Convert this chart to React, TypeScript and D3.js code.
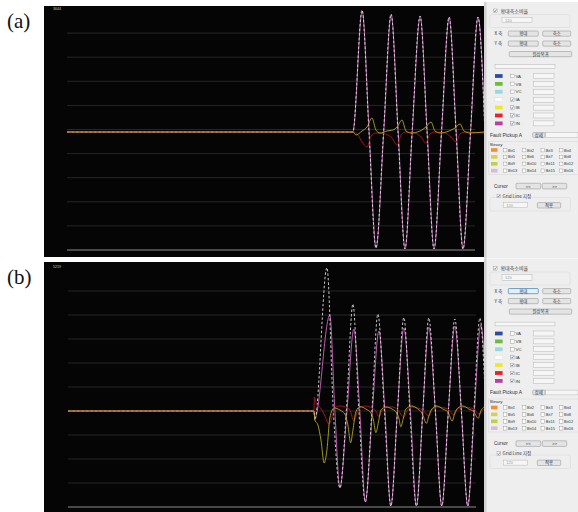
import React, { useEffect, useRef } from 'react';
import * as d3 from 'd3';

type Pt = [number, number];

// (a) fault record: time in ms, current in A
const iaA: Pt[] = [
  [0, 0], [164.5, 0], [169.8, 3615], [173.8, 0], [177.8, -3440], [182.2, 0],
  [186.5, 3496], [190.5, 0], [194.5, -3467], [198.6, 0], [203.2, 3437], [207.2, 0],
  [211.2, -3467], [215.5, 0], [219.9, 3407], [223.9, 0], [227.9, -3467], [232.2, 0],
  [236.5, 3407], [240.5, 0],
];
const inA: Pt[] = [
  [0, 0], [164.5, 0], [169.9, 3580], [173.9, 0], [177.9, -3430], [182.3, 0],
  [186.6, 3470], [190.6, 0], [194.6, -3455], [198.7, 0], [203.3, 3420], [207.3, 0],
  [211.3, -3455], [215.6, 0], [220, 3395], [224, 0], [228, -3455], [232.3, 0],
  [236.6, 3395], [240.6, 0],
];
const ibA: Pt[] = [
  [0, 0], [164.6, 0], [166.3, -89], [169.8, 30], [172.7, 150], [175.5, 415], [177.8, 60],
  [180.1, -30], [184.2, 30], [187.6, 60], [190, 150], [192.8, 355], [195.1, 30], [198, -30],
  [203.2, 30], [206.6, 150], [209.5, 296], [211.8, 30], [214.7, -30], [219.9, 30],
  [223.3, 118], [226.2, 237], [228.5, 30], [231.9, -30], [240, 0],
];
const icA: Pt[] = [
  [0, 0], [164.6, 0], [167.5, -89], [169.8, -296], [172.7, -444], [175, -118], [177.8, -30],
  [183, -59], [187, -178], [190, -385], [192.2, -89], [195.1, 0], [200.3, -30], [203.7, -148],
  [206.6, -326], [208.9, -59], [211.8, 0], [217.6, -30], [221, -148], [223.9, -296],
  [226.2, -59], [229.6, 0], [240, -30],
];

// (b) fault record
const iaB: Pt[] = [
  [0, 0], [160.8, 0], [161.4, -326], [169.3, 5193], [173.5, 0], [177.8, -2790], [182, 0],
  [186.3, 3878], [190.2, 0], [194.4, -3298], [198.7, 0], [202.6, 3515], [206.9, 0],
  [211.1, -3443], [215.4, 0], [219.6, 3388], [223.5, 0], [227.8, -3443], [232, 0],
  [235.9, 3370], [240.2, 0], [244.4, -3443], [248.7, 0], [252.9, 3334], [257.2, 0],
  [261.4, -3443], [265.4, 0], [269.3, 3370], [273.2, 0],
];
const inB: Pt[] = [
  [0, 0], [160.8, 0], [161.4, -254], [171.2, 3479], [174.5, 0], [177.8, -2790], [182.4, 0],
  [186.9, 2972], [190.8, 0], [194.4, -3298], [199, 0], [203.3, 2899], [207.2, 0],
  [211.1, -3443], [215.4, 0], [219.6, 3008], [223.9, 0], [227.8, -3443], [232, 0],
  [235.9, 3044], [240.2, 0], [244.4, -3443], [248.7, 0], [252.9, 3080], [257.2, 0],
  [261.4, -3443], [265.7, 0], [269.9, 3117], [273.9, 0],
];
const ibB: Pt[] = [
  [0, 0], [160.8, 0], [161.4, -326], [163.4, -507], [165.4, -1051], [167.5, -1885],
  [169.3, -1413], [171.2, -254], [173.9, 109], [177.8, 36], [181, -109], [183, -507],
  [184.8, -1149], [186.3, -689], [188.2, -36], [190.8, 156], [194.8, 72], [198, -72],
  [199.7, -326], [201.3, -786], [203, -399], [204.6, 36], [207.8, 145], [211.8, 72],
  [215, -72], [216.3, -254], [217.6, -569], [219.3, -254], [220.9, 72], [224.8, 181],
  [228.8, 72], [231.4, -72], [234.4, -446], [235.9, -181], [237.9, 72], [241.2, 181],
  [245.1, 72], [248.4, -36], [251.2, -362], [252.9, -72], [254.9, 109], [258.2, 181],
  [262.1, 72], [265.4, -36], [268.2, -265], [269.9, 0], [271.9, 145],
];
const icB: Pt[] = [
  [0, 0], [160.8, 0], [161.1, 507], [162.1, 326], [164, 181], [166, 36], [168, -181],
  [170.6, -471], [172.5, -254], [174.5, 109], [177.8, 181], [181.7, 145], [184.3, 36],
  [186.9, -351], [188.9, -72], [191.5, 145], [194.8, 181], [198.7, 109], [201.3, 0],
  [203.3, -206], [205.2, 0], [208.5, 145], [212.4, 145], [215.7, 36], [219.6, -217],
  [221.6, 0], [224.8, 145], [228.8, 109], [232, 36], [235.9, -181], [237.9, 36],
  [241.2, 145], [248.4, 72], [252.3, -145], [254.2, 36], [258.2, 145], [265.4, 72],
  [268.6, -109], [271.9, 72],
];

const phaseNames = ['VA', 'VB', 'VC', 'IA', 'IB', 'IC', 'IN'];
const phaseColors = ['#2e4d9f', '#6bbd3e', '#9cd6df', '#ffffff', '#efe632', '#e6222a', '#b63fa5'];
const phaseOn = [false, false, false, true, true, true, true];
const bitColors = ['#f28d33', '#d9cf4c', '#bdd14b', '#dab8da'];
const bitNames = [
  ['Bit1', 'Bit2', 'Bit3', 'Bit4'],
  ['Bit5', 'Bit6', 'Bit7', 'Bit8'],
  ['Bit9', 'Bit10', 'Bit11', 'Bit12'],
  ['Bit13', 'Bit14', 'Bit15', 'Bit16'],
];

const traceStyles = {
  IN: { color: '#b95fab', opacity: 1, dash: null },
  IA: { color: '#dcdcdc', opacity: 0.9, dash: '2.5 2' },
  IC: { color: '#a8161d', opacity: 0.95, dash: null },
  IB: { color: '#b8b026', opacity: 0.85, dash: null },
};

const scopes = [
  {
    id: 'a', top: 6, bottom: 257, gridTop: 9, gridBottom: 250, gridLeft: 67, gridRight: 475,
    xMax: 240, yMax: 3644, yMin: -3496,
    series: { IN: inA, IA: iaA, IC: icA, IB: ibA },
  },
  {
    id: 'b', top: 262, bottom: 512, gridTop: 267, gridBottom: 507, gridLeft: 68, gridRight: 476,
    xMax: 272, yMax: 5219, yMin: -3479,
    series: { IN: inB, IA: iaB, IC: icB, IB: ibB },
  },
];

const sans = "'Liberation Sans', Arial, sans-serif";
const kr = "'Noto Sans CJK KR', sans-serif";

const Scope = ({ cfg }: { cfg: any }) => {
  const ref = useRef<SVGGElement>(null);

  useEffect(() => {
    const g = d3.select(ref.current);
    g.selectAll('*').remove();

    const x = d3.scaleLinear().domain([0, cfg.xMax]).range([cfg.gridLeft, 484]);
    const y = d3.scaleLinear().domain([cfg.yMin, cfg.yMax]).range([cfg.gridBottom, cfg.gridTop]);

    g.append('rect')
      .attr('x', 44)
      .attr('y', cfg.top)
      .attr('width', 440)
      .attr('height', cfg.bottom - cfg.top)
      .attr('fill', '#050505');

    const clipId = `clip-${cfg.id}`;
    g.append('clipPath')
      .attr('id', clipId)
      .append('rect')
      .attr('x', 44)
      .attr('y', cfg.top)
      .attr('width', 440)
      .attr('height', cfg.bottom - cfg.top);

    // 10 divisions between yMax and yMin
    const divs = d3.range(1, 11).map((i) => cfg.yMax - (i * (cfg.yMax - cfg.yMin)) / 10);
    g.selectAll('line.grid')
      .data(divs)
      .enter()
      .append('line')
      .attr('x1', cfg.gridLeft)
      .attr('x2', cfg.gridRight)
      .attr('y1', (d) => y(d))
      .attr('y2', (d) => y(d))
      .attr('stroke', (d, i) => (i === 9 ? '#8e8e8e' : '#2e2e2e'))
      .attr('stroke-width', (d, i) => (i === 9 ? 1.2 : 0.8));

    g.append('text')
      .attr('x', 53)
      .attr('y', cfg.gridTop + 0.6)
      .attr('font-size', 3.6)
      .attr('font-family', sans)
      .attr('fill', '#c8c8c8')
      .text(cfg.yMax);

    const line = d3
      .line<Pt>()
      .x((d) => x(d[0]))
      .y((d) => y(d[1]))
      .curve(d3.curveMonotoneX);

    const traces = g.append('g').attr('clip-path', `url(#${clipId})`);
    Object.keys(cfg.series).forEach((name) => {
      const st = (traceStyles as any)[name];
      traces
        .append('path')
        .attr('d', line(cfg.series[name]))
        .attr('fill', 'none')
        .attr('stroke', st.color)
        .attr('stroke-opacity', st.opacity)
        .attr('stroke-width', 1)
        .attr('stroke-dasharray', st.dash);
    });
  }, [cfg]);

  return <g ref={ref} />;
};

const CheckBox = ({ x, y, on }: { x: number; y: number; on: boolean }) => (
  <g>
    <rect x={x} y={y} width={3.6} height={3.6} fill="#ffffff" stroke="#8a8a8a" strokeWidth={0.4} />
    {on && (
      <path
        d={`M${x + 0.7},${y + 1.9} L${x + 1.5},${y + 2.9} L${x + 3},${y + 0.7}`}
        fill="none"
        stroke="#2b4a8f"
        strokeWidth={0.6}
      />
    )}
  </g>
);

const Button = ({ x, y, w, h, label, active = false, font = kr }: any) => (
  <g>
    <rect
      x={x}
      y={y}
      width={w}
      height={h}
      rx={1}
      fill={active ? '#e3effa' : '#e4e4e4'}
      stroke={active ? '#3d80b8' : '#8c8c8c'}
      strokeWidth={active ? 0.7 : 0.5}
    />
    <text x={x + w / 2} y={y + h / 2 + 1.6} textAnchor="middle" fontSize={4.4} fontFamily={font} fill="#333">
      {label}
    </text>
  </g>
);

const Field = ({ x, y, w, h, value = '' }: any) => (
  <g>
    <rect x={x} y={y} width={w} height={h} fill="#f6f6f6" stroke="#a8a8a8" strokeWidth={0.4} />
    {value && (
      <text x={x + 3} y={y + h / 2 + 1.5} fontSize={4} fontFamily={sans} fill="#999">
        {value}
      </text>
    )}
  </g>
);

const ControlPanel = ({ dy, top, activeX }: { dy: number; top: number; activeX: boolean }) => (
  <g fill="#333">
    <rect x={484} y={top} width={94} height={dy + 258 - top} fill="#eeeeee" />
    <rect x={484} y={top} width={2.5} height={dy + 258 - top} fill="#d2d2d2" />

    <CheckBox x={493.5} y={dy + 9} on />
    <text x={500.5} y={dy + 12.6} fontSize={5} fontFamily={kr}>확대축소비율</text>
    <rect x={490} y={dy + 14.5} width={80} height={13} rx={1.5} fill="none" stroke="#d4d4d4" strokeWidth={0.5} />
    <Field x={502} y={dy + 17.3} w={30} h={5.4} value="120" />

    <text x={494.5} y={dy + 35.2} fontSize={4.6} fontFamily={kr}>X 축</text>
    <Button x={508.3} y={dy + 31} w={30} h={5.2} label="확대" active={activeX} />
    <Button x={542.7} y={dy + 31} w={28} h={5.2} label="축소" />
    <text x={494.5} y={dy + 45.2} fontSize={4.6} fontFamily={kr}>Y 축</text>
    <Button x={508.3} y={dy + 41} w={30} h={5.2} label="확대" />
    <Button x={542.7} y={dy + 41} w={28} h={5.2} label="축소" />
    <Button x={509.3} y={dy + 51.5} w={62.4} h={5.2} label="원상복귀" />

    <Field x={495} y={dy + 64.6} w={60} h={3.8} />

    {phaseNames.map((name, i) => {
      const cy = dy + 76 + i * 7.9;
      return (
        <g key={name}>
          <rect
            x={495}
            y={cy - 1.9}
            width={7.6}
            height={3.8}
            fill={phaseColors[i]}
            stroke={name === 'IA' ? '#c8c8c8' : 'none'}
            strokeWidth={0.3}
          />
          <CheckBox x={510.5} y={cy - 1.8} on={phaseOn[i]} />
          <text x={515.5} y={cy + 1.6} fontSize={4.4} fontFamily={sans}>{name}</text>
          <Field x={533.3} y={cy - 2.5} w={20.7} h={5} />
        </g>
      );
    })}

    <text x={490} y={dy + 136.8} fontSize={5} fontFamily={sans}>Fault Pickup A</text>
    <Button x={532.7} y={dy + 132.6} w={12.3} h={4.8} label="상세" />
    <Field x={545.8} y={dy + 132.6} w={32.2} h={4.8} />

    <rect x={488.5} y={dy + 141.5} width={92} height={33} fill="none" stroke="#d6d6d6" strokeWidth={0.5} />
    <text x={490} y={dy + 145.5} fontSize={4.4} fontFamily={sans}>Binary</text>
    {bitNames.map((row, r) => {
      const cy = dy + 150 + r * 6.9;
      return (
        <g key={r}>
          <rect x={491} y={cy - 1.8} width={6.5} height={3.6} fill={bitColors[r]} />
          {row.map((b, c) => {
            const bx = [503.3, 522.3, 541, 559.3][c];
            return (
              <g key={b}>
                <CheckBox x={bx} y={cy - 1.7} on={false} />
                <text x={bx + 4.8} y={cy + 1.5} fontSize={4} fontFamily={sans}>{b}</text>
              </g>
            );
          })}
        </g>
      );
    })}

    <text x={494} y={dy + 187.6} fontSize={4.6} fontFamily={sans}>Cursor</text>
    <Button x={516} y={dy + 183.3} w={24.7} h={5.6} label="<<" font={sans} />
    <Button x={542.3} y={dy + 183.3} w={24.4} h={5.6} label=">>" font={sans} />

    <rect x={490} y={dy + 197.5} width={80.5} height={13.5} rx={1.5} fill="none" stroke="#d4d4d4" strokeWidth={0.5} />
    <CheckBox x={497} y={dy + 194.2} on />
    <text x={502.5} y={dy + 197.8} fontSize={4.6} fontFamily={kr}>Grid Line 지정</text>
    <Field x={503.3} y={dy + 202.6} w={24} h={5} value="120" />
    <Button x={537.3} y={dy + 202.6} w={23.4} h={5.4} label="적용" />
  </g>
);

const App = () => (
  <svg
    width={578}
    height={512}
    style={{ position: 'absolute', left: 0, top: 0, background: '#ffffff' }}
  >
    <text x={7} y={28} fontSize={21} fontFamily="'Liberation Serif', 'Times New Roman', serif" fill="#111">(a)</text>
    <text x={7} y={284} fontSize={21} fontFamily="'Liberation Serif', 'Times New Roman', serif" fill="#111">(b)</text>
    <Scope cfg={scopes[0]} />
    <Scope cfg={scopes[1]} />
    <ControlPanel dy={0} top={2} activeX={false} />
    <ControlPanel dy={257.5} top={258.5} activeX />
  </svg>
);

export default App;
